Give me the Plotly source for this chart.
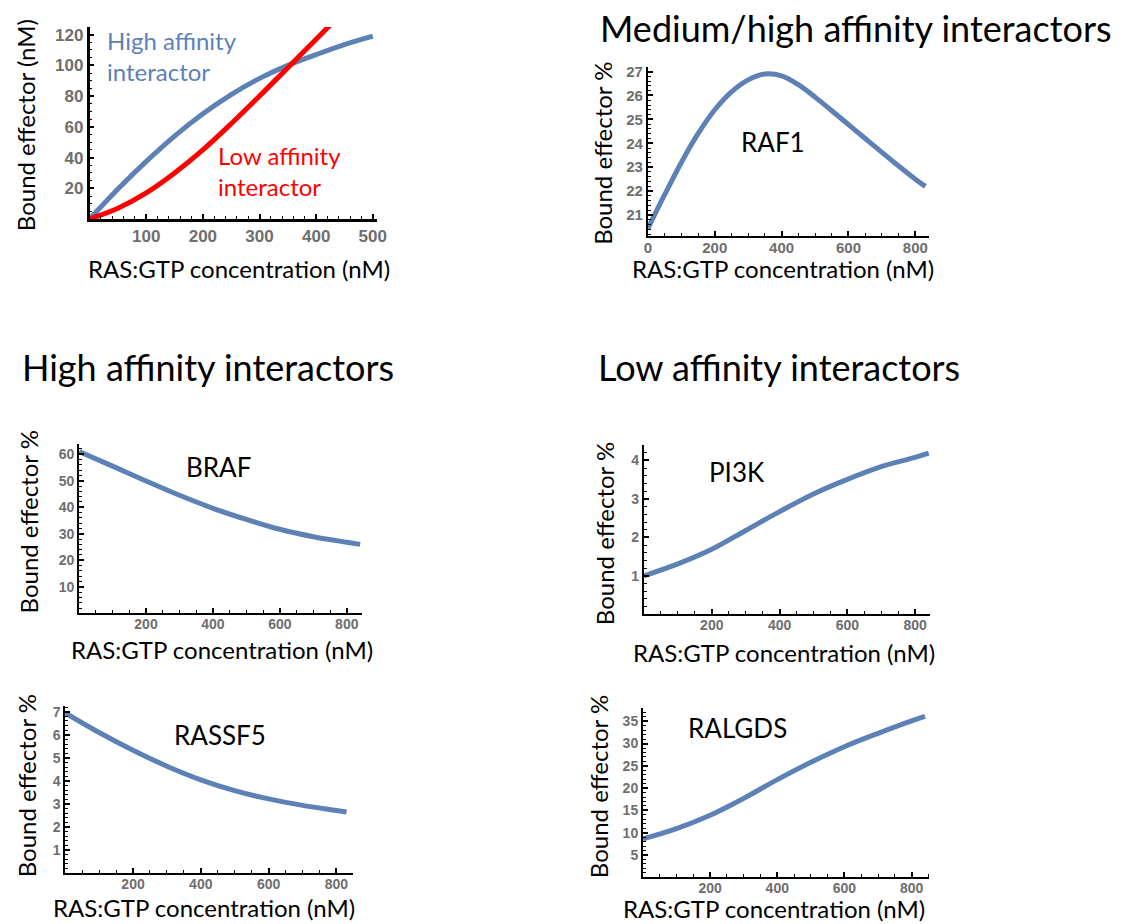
import numpy as np
import plotly.graph_objects as go

W, H = 1130, 924

# ---------------- data ----------------
conc_high = [0, 50, 100, 150, 200, 250, 300, 350, 400, 450, 500]
high_affinity = [0, 19.5, 37.5, 54, 68.5, 81, 91.5, 100, 107, 113.5, 119]

conc_low = [0, 50, 100, 150, 200, 250, 300, 350, 400, 435]
low_affinity = [0, 7, 17, 30, 45, 62, 80, 98.5, 117, 130]

conc_raf1 = [0, 50, 100, 150, 200, 250, 300, 350, 400, 450, 500, 550, 600, 650, 700, 750, 800, 830]
raf1 = [20.44, 21.85, 23.2, 24.4, 25.4, 26.15, 26.65, 26.9, 26.82, 26.45, 25.93, 25.36, 24.78,
        24.2, 23.62, 23.05, 22.5, 22.2]

conc_braf = [0, 100, 200, 300, 400, 500, 600, 700, 800, 840]
braf = [61, 55.5, 49.9, 44.5, 39.6, 35.4, 31.7, 28.9, 26.8, 26.0]

conc_pi3k = [0, 100, 200, 300, 400, 500, 600, 700, 800, 840]
pi3k = [1.0, 1.31, 1.69, 2.18, 2.67, 3.13, 3.51, 3.84, 4.08, 4.19]

conc_rassf5 = [0, 100, 200, 300, 400, 500, 600, 700, 800, 830]
rassf5 = [6.95, 6.1, 5.33, 4.64, 4.05, 3.58, 3.22, 2.94, 2.72, 2.65]

conc_ralgds = [0, 100, 200, 300, 400, 500, 600, 700, 800, 840]
ralgds = [8.6, 10.9, 13.9, 17.7, 21.9, 25.8, 29.3, 32.3, 35.1, 36.1]

y_title_nm = "Bound effector (nM)"
y_title_pct = "Bound effector %"
x_title = "RAS:GTP concentration (nM)"

BLUE = "#5E81B5"
RED = "#FF0000"
TICK_GREY = "#6E6E6E"
TEXT_FONT = "Lato"
TICK_FONT = "Liberation Sans"


def px_x(p):
    return p / W


def px_y(p):
    return 1 - p / H


# panel geometry: (x0px, x1px, ytop_px, ybot_px), ranges, ticks
panels = [
    dict(dom=(86.7, 378, 23, 216), xr=[0, 508], yr=[0, 125],
         xt=[100, 200, 300, 400, 500], yt=[20, 40, 60, 80, 100, 120],
         xminor=20, yminor=5, tfs=17, lw=2.5, so=0),
    dict(dom=(652, 937, 63, 233), xr=[0, 842], yr=[20.125, 27.2],
         xt=[0, 200, 400, 600, 800], yt=[21, 22, 23, 24, 25, 26, 27],
         xminor=50, yminor=0.2, tfs=15, lw=2, so=-3),
    dict(dom=(76, 362, 442, 612), xr=[0, 844], yr=[0, 63.8],
         xt=[200, 400, 600, 800], yt=[10, 20, 30, 40, 50, 60],
         xminor=50, yminor=2, tfs=14, lw=2, so=-3),
    dict(dom=(648, 938, 443, 613), xr=[0, 845], yr=[0, 4.4],
         xt=[200, 400, 600, 800], yt=[1, 2, 3, 4],
         xminor=50, yminor=0.2, tfs=14, lw=2, so=-3),
    dict(dom=(62, 353, 705, 873), xr=[0, 848], yr=[0, 7.25],
         xt=[200, 400, 600, 800], yt=[1, 2, 3, 4, 5, 6, 7],
         xminor=50, yminor=0.2, tfs=14, lw=2, so=-3),
    dict(dom=(647, 937, 707, 877), xr=[0, 853], yr=[0, 38],
         xt=[200, 400, 600, 800], yt=[5, 10, 15, 20, 25, 30, 35],
         xminor=50, yminor=1, tfs=14, lw=2, so=-3),
]

fig = go.Figure()

series = [
    (0, conc_high, high_affinity, BLUE),
    (0, conc_low, low_affinity, RED),
    (1, conc_raf1, raf1, BLUE),
    (2, conc_braf, braf, BLUE),
    (3, conc_pi3k, pi3k, BLUE),
    (4, conc_rassf5, rassf5, BLUE),
    (5, conc_ralgds, ralgds, BLUE),
]
for idx, xs, ys, col in series:
    sfx = "" if idx == 0 else str(idx + 1)
    fig.add_trace(go.Scatter(x=xs, y=ys, mode="lines",
                             line=dict(color=col, width=5, shape="spline", smoothing=1.0),
                             xaxis="x" + sfx, yaxis="y" + sfx, showlegend=False,
                             hoverinfo="skip"))

layout = dict(width=W, height=H, margin=dict(l=0, r=0, t=0, b=0),
              paper_bgcolor="white", plot_bgcolor="white", showlegend=False)

for i, p in enumerate(panels):
    sfx = "" if i == 0 else str(i + 1)
    x0, x1, yt, yb = p["dom"]
    tickfont = dict(family=TICK_FONT, size=p["tfs"], color=TICK_GREY, weight="bold")
    xminor_vals = list(np.arange(p["xr"][0], p["xr"][1] + 1e-9, p["xminor"]))
    yminor_vals = list(np.arange(0, p["yr"][1] + 1e-9, p["yminor"]))
    layout["xaxis" + sfx] = dict(
        domain=[px_x(x0), px_x(x1)], range=p["xr"], anchor="y" + sfx,
        showgrid=False, zeroline=False, showline=True, linecolor="black", linewidth=p["lw"],
        ticks="inside", ticklen=5, tickwidth=1.5, tickcolor="black", ticklabelstandoff=p["so"],
        tickmode="array", tickvals=p["xt"], tickfont=tickfont,
        minor=dict(tickmode="array", tickvals=xminor_vals, ticks="inside", ticklen=3,
                   tickwidth=1, tickcolor="black", showgrid=False),
        fixedrange=True)
    layout["yaxis" + sfx] = dict(
        domain=[px_y(yb), px_y(yt)], range=p["yr"], anchor="x" + sfx,
        showgrid=False, zeroline=False, showline=True, linecolor="black", linewidth=p["lw"],
        ticks="inside", ticklen=5, tickwidth=1.5, tickcolor="black",
        tickmode="array", tickvals=p["yt"], tickfont=tickfont,
        minor=dict(tickmode="array", tickvals=yminor_vals, ticks="inside", ticklen=3,
                   tickwidth=1, tickcolor="black", showgrid=False),
        fixedrange=True)

fig.update_layout(**layout)

ann = []
AX_FS = 24


def paper_text(text, xp, yp, size, angle=0, color="black", xanchor="center"):
    ann.append(dict(text=text, x=px_x(xp), y=px_y(yp), xref="paper", yref="paper",
                    showarrow=False, textangle=angle, xanchor=xanchor, yanchor="middle",
                    font=dict(family=TEXT_FONT, size=size, color=color)))


# section titles
paper_text("Medium/high affinity interactors", 601, 24, 36, xanchor="left")
paper_text("High affinity interactors", 16, 365, 36, xanchor="left")
paper_text("Low affinity interactors", 599, 365, 36, xanchor="left")

# axis titles
x_title_pos = [(238, 266), (789, 266), (221, 648), (790, 651), (203, 907), (780, 908)]
y_title_pos = [(22, 122), (606, 150), (25, 520), (608, 532), (23, 785), (602, 786)]
for i, ((xx, xy), (yx, yy)) in enumerate(zip(x_title_pos, y_title_pos)):
    paper_text(x_title, xx, xy, AX_FS)
    paper_text(y_title_nm if i == 0 else y_title_pct, yx, yy, AX_FS, angle=-90)

# in-plot labels (data coordinates)
labels = [
    ("", "High affinity<br>interactor", 28, 106, BLUE, "left", 24),
    ("", "Low affinity<br>interactor", 223, 31, RED, "left", 24),
    ("2", "RAF1", 375, 24.05, "black", "center", 26),
    ("3", "BRAF", 418, 55.2, "black", "center", 26),
    ("4", "PI3K", 274, 3.7, "black", "center", 26),
    ("5", "RASSF5", 456, 5.97, "black", "center", 26),
    ("6", "RALGDS", 282, 33.6, "black", "center", 26),
]
for sfx, text, x, y, col, xa, fs in labels:
    ann.append(dict(text=text, x=x, y=y, xref="x" + sfx, yref="y" + sfx, showarrow=False,
                    xanchor=xa, yanchor="middle", align="left",
                    font=dict(family=TEXT_FONT, size=fs, color=col)))

fig.update_layout(annotations=ann)
fig.write_html("out.html", config={"displayModeBar": False},
               post_script="document.body.style.margin='0px';document.body.style.overflow='hidden';")
